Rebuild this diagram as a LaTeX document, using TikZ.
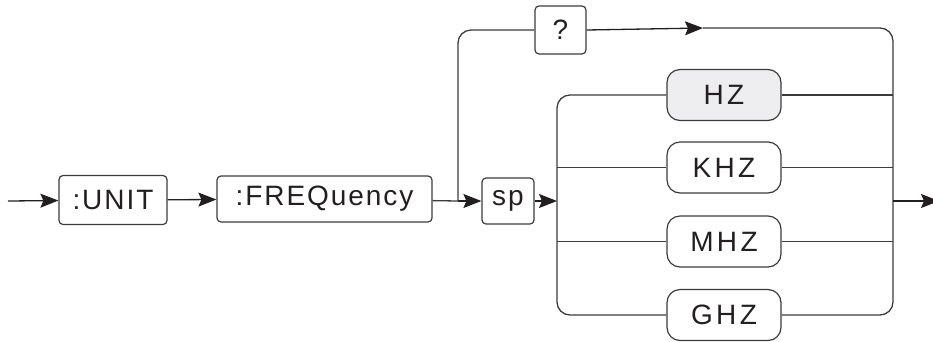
\documentclass[tikz,border=0pt]{standalone}
\usepackage{fontspec}
\setmainfont{Liberation Sans}
\usepackage{tikz}
\usetikzlibrary{arrows.meta, positioning, calc}
\definecolor{mydark}{RGB}{35,31,32}
\definecolor{myline}{RGB}{60,60,60}
\definecolor{hzgray}{RGB}{238,238,240}
\tikzset{
  kwbox/.style={rectangle, draw=myline, fill=white, inner sep=0pt,
    rounded corners=4pt, line width=1.2pt, text=mydark,
    font=\fontsize{28}{30}\selectfont\addfontfeature{LetterSpace=7}},
  unitbox/.style={rectangle, draw=myline, fill=white, inner sep=0pt,
    minimum width=114pt, minimum height=51pt,
    rounded corners=13pt, line width=1.2pt, text=mydark,
    font=\fontsize{28}{30}\selectfont\addfontfeature{LetterSpace=12}},
  arrow/.style={-{Stealth[length=18pt, width=14pt, inset=3pt]}, line width=1.3pt, color=mydark},
  line/.style={line width=1.3pt, color=myline}
}

\begin{document}
\begin{tikzpicture}[x=1pt, y=-1pt]
  \useasboundingbox (0,0) rectangle (933,341);

  % Command chain
  \node[kwbox, minimum width=108pt, minimum height=49pt] (unit) at (113,200) {:UNIT};
  \node[kwbox, minimum width=215pt, minimum height=46pt] (freq) at (324.5,199) {:FREQuency};
  \node[kwbox, minimum width=52pt, minimum height=46pt] (sp) at (508,201) {sp};
  \node[kwbox, minimum width=51pt, minimum height=48pt] (query) at (560.5,30) {?};

  % Unit choices
  \node[unitbox, fill=hzgray] (hz) at (724,95) {HZ};
  \node[unitbox] (khz) at (724,167.5) {KHZ};
  \node[unitbox] (mhz) at (724,241.5) {MHZ};
  \node[unitbox] (ghz) at (724,315) {GHZ};

  % Junction points
  \coordinate (start) at (8,201);
  \coordinate (split) at (458,201);
  \coordinate (lsplit) at (557,201);
  \coordinate (join) at (893,201);
  \coordinate (qtip) at (703,28);
  \coordinate (end) at (939,201);

  % Main path
  \draw[arrow] (start) -- (unit);
  \draw[arrow] (unit) -- (freq);
  \draw[line] (freq) -- (split);
  \draw[arrow] (split) -- (sp);
  \draw[arrow] (sp) -- (lsplit);

  % Query path
  \draw[line, rounded corners=13pt] (split) |- (query.west);
  \draw[arrow] (query.east) -- (qtip);
  \draw[line, rounded corners=13pt] (qtip) -| (join);

  % Choices in
  \draw[line, rounded corners=13pt] (lsplit) |- (hz.west);
  \draw[line] (khz.west -| lsplit) -- (khz.west);
  \draw[line] (mhz.west -| lsplit) -- (mhz.west);
  \draw[line, rounded corners=13pt] (lsplit) |- (ghz.west);

  % Choices out
  \draw[line] (hz.east) -- (hz.east -| join);
  \draw[line] (khz.east) -- (khz.east -| join);
  \draw[line] (mhz.east) -- (mhz.east -| join);
  \draw[line, rounded corners=13pt] (ghz.east) -| (join);

  % Exit
  \draw[arrow] (join) -- (end);
\end{tikzpicture}
\end{document}
